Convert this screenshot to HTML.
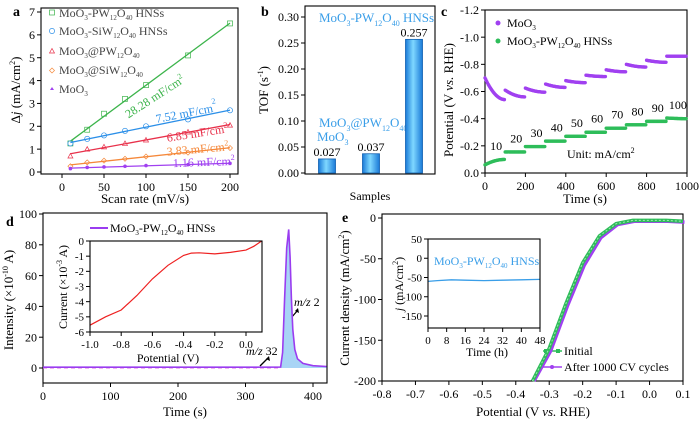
<!DOCTYPE html>
<html><head><meta charset="utf-8"><style>
html,body{margin:0;padding:0;background:#fff}
svg{display:block;font-family:"Liberation Serif",serif}
</style></head><body>
<svg id="fig" width="700" height="422" viewBox="0 0 700 422" xmlns="http://www.w3.org/2000/svg">
<!-- Panel labels -->
<text x="13" y="16" font-size="14" font-weight="bold">a</text>
<text x="261" y="16" font-size="14" font-weight="bold">b</text>
<text x="441" y="16" font-size="14" font-weight="bold">c</text>
<text x="6" y="226" font-size="14" font-weight="bold">d</text>
<text x="342" y="222" font-size="14" font-weight="bold">e</text>

<!-- axis titles -->
<text x="145" y="203" font-size="13" text-anchor="middle">Scan rate (mV/s)</text>
<text transform="translate(20,90) rotate(-90)" font-size="13" text-anchor="middle">Δ<tspan font-style="italic">j</tspan> (mA/cm<tspan font-size="8" dy="-5">2</tspan><tspan dy="5">)</tspan></text>
<text x="370" y="200" font-size="12" text-anchor="middle">Samples</text>
<text transform="translate(268,90) rotate(-90)" font-size="13" text-anchor="middle">TOF (s<tspan font-size="8" dy="-5">-1</tspan><tspan dy="5">)</tspan></text>
<text x="585" y="203" font-size="13" text-anchor="middle">Time (s)</text>
<text transform="translate(453,100) rotate(-90)" font-size="13" text-anchor="middle">Potential (V <tspan font-style="italic">vs.</tspan> RHE)</text>
<text x="185" y="416" font-size="13" text-anchor="middle">Time (s)</text>
<text transform="translate(13,300) rotate(-90)" font-size="13" text-anchor="middle">Intensity (×10<tspan font-size="8" dy="-5">-10</tspan><tspan dy="5"> A)</tspan></text>
<text x="168" y="362" font-size="12" text-anchor="middle">Potential (V)</text>
<text transform="translate(67,287) rotate(-90)" font-size="12" text-anchor="middle">Current (×10<tspan font-size="8" dy="-5">-3</tspan><tspan dy="5"> A)</tspan></text>
<text x="533" y="416" font-size="13" text-anchor="middle">Potential (V <tspan font-style="italic">vs.</tspan> RHE)</text>
<text transform="translate(349,298) rotate(-90)" font-size="13" text-anchor="middle">Current density (mA/cm<tspan font-size="8" dy="-5">2</tspan><tspan dy="5">)</tspan></text>
<text x="487" y="356" font-size="12" text-anchor="middle">Time (h)</text>
<text transform="translate(403,284) rotate(-90)" font-size="12" text-anchor="middle"><tspan font-style="italic">j</tspan> (mA/cm<tspan font-size="8" dy="-5">2</tspan><tspan dy="5">)</tspan></text>

<!-- legend a -->
<g font-size="12">
<rect x="49.5" y="10" width="5" height="5" fill="none" stroke="#3cb44b" stroke-width="0.7"/>
<text x="59" y="17" fill="#444">MoO<tspan font-size="7" dy="3">3</tspan><tspan dy="-3">-PW</tspan><tspan font-size="7" dy="3">12</tspan><tspan dy="-3">O</tspan><tspan font-size="7" dy="3">40</tspan><tspan dy="-3"> HNSs</tspan></text>
<circle cx="52" cy="31" r="2.6" fill="none" stroke="#2b8fe8" stroke-width="0.7"/>
<text x="59" y="35" fill="#444">MoO<tspan font-size="7" dy="3">3</tspan><tspan dy="-3">-SiW</tspan><tspan font-size="7" dy="3">12</tspan><tspan dy="-3">O</tspan><tspan font-size="7" dy="3">40</tspan><tspan dy="-3"> HNSs</tspan></text>
<path d="M49.5,53 L52,48.5 L54.5,53 Z" fill="none" stroke="#e8304a" stroke-width="0.7"/>
<text x="59" y="55" fill="#444">MoO<tspan font-size="7" dy="3">3</tspan><tspan dy="-3">@PW</tspan><tspan font-size="7" dy="3">12</tspan><tspan dy="-3">O</tspan><tspan font-size="7" dy="3">40</tspan></text>
<path d="M52,68 L54.5,70.5 L52,73 L49.5,70.5 Z" fill="none" stroke="#f5883a" stroke-width="0.7"/>
<text x="59" y="74" fill="#444">MoO<tspan font-size="7" dy="3">3</tspan><tspan dy="-3">@SiW</tspan><tspan font-size="7" dy="3">12</tspan><tspan dy="-3">O</tspan><tspan font-size="7" dy="3">40</tspan></text>
<path d="M52,87 L54,90 L50,90 Z" fill="#a040f0"/>
<text x="59" y="93" fill="#444">MoO<tspan font-size="7" dy="3">3</tspan></text>
</g>
<!-- slope annotations a -->
<text transform="translate(157,100) rotate(-33)" font-size="12" fill="#3cb44b" text-anchor="middle">28.28 mF/cm<tspan font-size="8" dy="-5">2</tspan></text>
<text transform="translate(187,117) rotate(-11)" font-size="12" fill="#2b8fe8" text-anchor="middle">7.52 mF/cm<tspan font-size="8" dy="-8">2</tspan></text>
<text transform="translate(198,137) rotate(-9)" font-size="12" fill="#e8304a" text-anchor="middle">6.85 mF/cm<tspan font-size="8" dy="-5">2</tspan></text>
<text transform="translate(198,153) rotate(-5)" font-size="12" fill="#f5883a" text-anchor="middle">3.83 mF/cm<tspan font-size="8" dy="-5">2</tspan></text>
<text transform="translate(204,166) rotate(-2)" font-size="12" fill="#a040f0" text-anchor="middle">1.16 mF/cm<tspan font-size="8" dy="-5">2</tspan></text>

<!-- b labels -->
<text x="319" y="22" font-size="13" fill="#3a9ee8">MoO<tspan font-size="8" dy="4">3</tspan><tspan dy="-4">-PW</tspan><tspan font-size="8" dy="4">12</tspan><tspan dy="-4">O</tspan><tspan font-size="8" dy="4">40</tspan><tspan dy="-4"> HNSs</tspan></text>
<text x="319" y="127" font-size="13" fill="#3a9ee8">MoO<tspan font-size="8" dy="4">3</tspan><tspan dy="-4">@PW</tspan><tspan font-size="8" dy="4">12</tspan><tspan dy="-4">O</tspan><tspan font-size="8" dy="4">40</tspan></text>
<text x="317" y="141" font-size="13" fill="#3a9ee8">MoO<tspan font-size="8" dy="4">3</tspan></text>

<!-- legend c -->
<g font-size="12">
<circle cx="498" cy="23" r="2.5" fill="#a040f0"/>
<text x="507" y="27">MoO<tspan font-size="7" dy="3">3</tspan></text>
<circle cx="498" cy="41" r="2.5" fill="#2ebd5a"/>
<text x="507" y="45">MoO<tspan font-size="7" dy="3">3</tspan><tspan dy="-3">-PW</tspan><tspan font-size="7" dy="3">12</tspan><tspan dy="-3">O</tspan><tspan font-size="7" dy="3">40</tspan><tspan dy="-3"> HNSs</tspan></text>
</g>
<text x="567" y="158" font-size="12">Unit: mA/cm<tspan font-size="8" dy="-5">2</tspan></text>

<!-- legend d -->
<line x1="90" y1="228" x2="108" y2="228" stroke="#9a3cf0" stroke-width="2"/>
<text x="110" y="232" font-size="12">MoO<tspan font-size="7" dy="3">3</tspan><tspan dy="-3">-PW</tspan><tspan font-size="7" dy="3">12</tspan><tspan dy="-3">O</tspan><tspan font-size="7" dy="3">40</tspan><tspan dy="-3"> HNSs</tspan></text>
<text x="294" y="306" font-size="12"><tspan font-style="italic">m/z</tspan> 2</text>
<line x1="291" y1="318" x2="298" y2="310" stroke="#000" stroke-width="1.3"/>
<path d="M298,308 L299,313 L295,311 Z" fill="#000"/>
<text x="246" y="355" font-size="12"><tspan font-style="italic">m/z</tspan> 32</text>
<line x1="260" y1="366" x2="268" y2="358" stroke="#000" stroke-width="1.3"/>
<path d="M269,356 L270,361 L266,359 Z" fill="#000"/>

<!-- legend e -->
<text x="434" y="265" font-size="12" fill="#3a9ee8">MoO<tspan font-size="7" dy="3">3</tspan><tspan dy="-3">-PW</tspan><tspan font-size="7" dy="3">12</tspan><tspan dy="-3">O</tspan><tspan font-size="7" dy="3">40</tspan><tspan dy="-3"> HNSs</tspan></text>
<g>
<line x1="543" y1="351" x2="562" y2="351" stroke="#2ebd5a" stroke-width="1.5"/>
<rect x="544" y="349" width="4" height="4" fill="#2ebd5a"/><rect x="556" y="349" width="4" height="4" fill="#2ebd5a"/>
<text x="564" y="355" font-size="12">Initial</text>
<line x1="543" y1="367" x2="562" y2="367" stroke="#a040f0" stroke-width="1.5"/>
<circle cx="552" cy="367" r="2" fill="#a040f0"/>
<text x="564" y="371" font-size="12">After 1000 CV cycles</text>
</g>
<g id="marks"></g>
</svg>
<script>
// ---------- data ----------
const aScan = [10, 30, 50, 75, 100, 150, 200];
const aGreen = [1.25, 1.85, 2.55, 3.2, 3.8, 5.1, 6.5];
const aBlue = [1.25, 1.45, 1.6, 1.8, 2.0, 2.3, 2.7];
const aRed = [0.7, 1.0, 1.1, 1.25, 1.4, 1.75, 2.05];
const aOrange = [0.25, 0.42, 0.5, 0.58, 0.68, 0.85, 1.05];
const aPurple = [0.15, 0.2, 0.22, 0.25, 0.28, 0.32, 0.38];
const aXTicks = [0, 50, 100, 150, 200];
const aYTicks = [0, 1, 2, 3, 4, 5, 6, 7];

const bCats = ["MoO3", "MoO3@PW12O40", "MoO3-PW12O40 HNSs"];
const bValues = [0.027, 0.037, 0.257];
const bValueLabels = ["0.027", "0.037", "0.257"];
const bYTicks = [0, 0.05, 0.10, 0.15, 0.20, 0.25, 0.30];
const bYTickLabels = ["0.00", "0.05", "0.10", "0.15", "0.20", "0.25", "0.30"];

const cMoO3Start = [-0.70, -0.61, -0.625, -0.655, -0.68, -0.72, -0.76, -0.80, -0.83, -0.86];
const cMoO3End = [-0.54, -0.56, -0.595, -0.63, -0.665, -0.71, -0.745, -0.78, -0.815, -0.86];
const cHNSsStart = [-0.06, -0.155, -0.195, -0.235, -0.27, -0.30, -0.33, -0.355, -0.38, -0.405];
const cHNSsEnd = [-0.10, -0.155, -0.195, -0.235, -0.27, -0.30, -0.33, -0.355, -0.38, -0.40];
const cCurrents = ["10", "20", "30", "40", "50", "60", "70", "80", "90", "100"];
const cXTicks = [0, 200, 400, 600, 800, 1000];
const cYTicks = [0, -0.2, -0.4, -0.6, -0.8, -1.0, -1.2];
const cYTickLabels = ["0.0", "-0.2", "-0.4", "-0.6", "-0.8", "-1.0", "-1.2"];

const dTime = [0, 100, 200, 300, 352, 355, 358, 361, 364, 366, 368, 370, 373, 377, 385, 400, 420];
const dIntensity = [0.5, 0.5, 0.5, 0.5, 0.6, 10, 45, 78, 90, 72, 45, 25, 12, 6, 3, 1.5, 1];
const dXTicks = [0, 100, 200, 300, 400];
const dYTicks = [0, 20, 40, 60, 80, 100];
const dInsetV = [-1.0, -0.9, -0.8, -0.7, -0.6, -0.5, -0.4, -0.35, -0.3, -0.2, -0.1, 0.0, 0.05, 0.1];
const dInsetI = [-5.55, -5.0, -4.55, -3.6, -2.5, -1.6, -0.95, -0.8, -0.78, -0.85, -0.75, -0.6, -0.35, 0.0];
const dInsetXTicks = [-1.0, -0.8, -0.6, -0.4, -0.2, 0.0];
const dInsetXTickLabels = ["-1.0", "-0.8", "-0.6", "-0.4", "-0.2", "0.0"];
const dInsetYTicks = [0, -1, -2, -3, -4, -5, -6];

const eV = [-0.35, -0.3, -0.25, -0.2, -0.15, -0.1, -0.05, 0.0, 0.05, 0.1];
const eInitial = [-200, -160, -105, -55, -22, -7, -3, -3, -3, -4];
const eCycled = [-200, -163, -108, -58, -24, -8, -4, -4, -4, -5];
const eXTicks = [-0.8, -0.7, -0.6, -0.5, -0.4, -0.3, -0.2, -0.1, 0.0, 0.1];
const eXTickLabels = ["-0.8", "-0.7", "-0.6", "-0.5", "-0.4", "-0.3", "-0.2", "-0.1", "0.0", "0.1"];
const eYTicks = [0, -50, -100, -150, -200];
const eInsetT = [0, 4, 10, 16, 24, 32, 40, 48];
const eInsetJ = [-60, -58, -56, -57, -58, -57, -56, -55];
const eInsetXTicks = [0, 8, 16, 24, 32, 40, 48];
const eInsetYTicks = [50, 0, -50, -100, -150];

// ---------- helpers ----------
const NS = "http://www.w3.org/2000/svg";
const root = document.getElementById("marks");
function mk(tag, attrs, parent, name) {
  const e = document.createElementNS(NS, tag);
  for (const k in attrs) e.setAttribute(k, attrs[k]);
  
  
  (parent || root).appendChild(e);
  return e;
}
function lin(d0, d1, r0, r1) { return v => r0 + (v - d0) * (r1 - r0) / (d1 - d0); }
function frame(x0, y0, x1, y1, name) {
  mk("rect", {x: x0, y: y0, width: x1 - x0, height: y1 - y0, fill: "none", stroke: "#000", "stroke-width": 1.1}, root, name);
}
function xTicks(vals, labels, sx, yb, name, fs) {
  vals.forEach((v, i) => {
    const x = sx(v);
    mk("line", {x1: x, y1: yb, x2: x, y2: yb + 4, stroke: "#000", "stroke-width": 1}, root, name + "-tick");
    const t = mk("text", {x: x, y: yb + 5 + fs, "font-size": fs, "text-anchor": "middle"}, root, name + "-tick-label");
    t.textContent = labels ? labels[i] : String(v);
  });
}
function yTicks(vals, labels, sy, xl, name, fs) {
  vals.forEach((v, i) => {
    const y = sy(v);
    mk("line", {x1: xl - 4, y1: y, x2: xl, y2: y, stroke: "#000", "stroke-width": 1}, root, name + "-tick");
    const t = mk("text", {x: xl - 6, y: y + fs * 0.35, "font-size": fs, "text-anchor": "end"}, root, name + "-tick-label");
    t.textContent = labels ? labels[i] : String(v);
  });
}
function poly(xs, ys, sx, sy, attrs, name) {
  const pts = xs.map((x, i) => sx(x).toFixed(1) + "," + sy(ys[i]).toFixed(1)).join(" ");
  const a = Object.assign({points: pts, fill: "none"}, attrs);
  return mk("polyline", a, root, name);
}

// ---------- panel a ----------
{
  const sx = lin(0, 200, 62, 230), sy = lin(0, 7, 172, 12);
  frame(41, 8, 238, 174, "a-plot-frame");
  xTicks(aXTicks, null, sx, 174, "a-x", 12);
  yTicks(aYTicks, null, sy, 41, "a-y", 12);
  const series = [[aGreen, "#3cb44b", "rect"], [aBlue, "#2b8fe8", "circle"], [aRed, "#e8304a", "tri"], [aOrange, "#f5883a", "dia"], [aPurple, "#a040f0", "star"]];
  series.forEach(([ys, col, shp], si) => {
    const n = aScan.length;
    const mx = aScan.reduce((a, b) => a + b) / n, my = ys.reduce((a, b) => a + b) / n;
    let num = 0, den = 0;
    aScan.forEach((x, i) => { num += (x - mx) * (ys[i] - my); den += (x - mx) ** 2; });
    const k = num / den, b0 = my - k * mx;
    mk("line", {x1: sx(10), y1: sy(b0 + k * 10), x2: sx(200), y2: sy(b0 + k * 200), stroke: col, "stroke-width": 1.3}, root, "a-fit-line-" + si);
    aScan.forEach((x, i) => {
      const px = sx(x), py = sy(ys[i]);
      if (shp === "rect") mk("rect", {x: px - 2.5, y: py - 2.5, width: 5, height: 5, fill: "none", stroke: col, "stroke-width": 0.7}, root, "a-point");
      else if (shp === "circle") mk("circle", {cx: px, cy: py, r: 2.6, fill: "none", stroke: col, "stroke-width": 0.7}, root, "a-point");
      else if (shp === "tri") mk("path", {d: `M${px - 2.5},${py + 2} L${px},${py - 2.5} L${px + 2.5},${py + 2} Z`, fill: "none", stroke: col, "stroke-width": 0.7}, root, "a-point");
      else if (shp === "dia") mk("path", {d: `M${px},${py - 2.5} L${px + 2.5},${py} L${px},${py + 2.5} L${px - 2.5},${py} Z`, fill: "none", stroke: col, "stroke-width": 0.7}, root, "a-point");
      else mk("circle", {cx: px, cy: py, r: 1.8, fill: col}, root, "a-point");
    });
  });
}

// ---------- panel b ----------
{
  const sy = lin(0, 0.30, 173, 17);
  const centers = [327, 371, 414];
  const defs = mk("defs", {}, root, "b-defs");
  const g = mk("linearGradient", {id: "barGrad", x1: "0", x2: "1", y1: "0", y2: "0"}, defs, "bar-gradient");
  mk("stop", {offset: "0", "stop-color": "#1a7ad8"}, g, "grad-stop");
  mk("stop", {offset: "0.45", "stop-color": "#7fd8ff"}, g, "grad-stop");
  mk("stop", {offset: "1", "stop-color": "#1a7ad8"}, g, "grad-stop");
  bValues.forEach((v, i) => {
    const bar = mk("rect", {x: centers[i] - 8.5, y: sy(v), width: 17, height: sy(0) - sy(v), fill: "url(#barGrad)", stroke: "#1060b0", "stroke-width": 0.8}, root, "bar-" + i);
    const t = mk("text", {x: centers[i], y: sy(v) - 3, "font-size": 12, "text-anchor": "middle"}, root, "bar-value-label-" + i);
    t.textContent = bValueLabels[i];
  });
  frame(305, 6, 435, 174, "b-plot-frame");
  yTicks(bYTicks, bYTickLabels, sy, 305, "b-y", 12);
}

// ---------- panel c ----------
{
  const sx = lin(0, 1000, 485, 687), sy = lin(0, -1.2, 173, 10);
  frame(485, 10, 687, 173, "c-plot-frame");
  xTicks(cXTicks, null, sx, 173, "c-x", 12);
  yTicks(cYTicks, cYTickLabels, sy, 485, "c-y", 12);
  const draw = (st, en, col, name) => {
    st.forEach((s, i) => {
      for (let t = 0; t < 100; t += 4) {
        const f = t / 100;
        const v = s + (en[i] - s) * (1 - Math.pow(1 - f, 2));
        mk("circle", {cx: sx(i * 100 + t), cy: sy(v), r: 1.7, fill: col}, root, name);
      }
    });
  };
  draw(cMoO3Start, cMoO3End, "#a040f0", "c-moo3-point");
  draw(cHNSsStart, cHNSsEnd, "#2ebd5a", "c-hnss-point");
  cCurrents.forEach((lab, i) => {
    const t = mk("text", {x: sx(i * 100 + 55), y: sy(cHNSsEnd[i] - 0.07), "font-size": 12, "text-anchor": "middle"}, root, "c-current-label");
    t.textContent = lab;
  });
}

// ---------- panel d ----------
{
  const sx = lin(0, 400, 43, 313), sy = lin(0, 100, 368, 214);
  frame(43, 213, 327, 383, "d-plot-frame");
  xTicks(dXTicks, null, sx, 383, "d-x", 12);
  yTicks(dYTicks, null, sy, 43, "d-y", 12);
  const idx = dTime.map((t, i) => i).filter(i => dTime[i] >= 352);
  let d = `M${sx(352)},${sy(0)} `;
  idx.forEach(i => { d += `L${sx(dTime[i]).toFixed(1)},${sy(dIntensity[i]).toFixed(1)} `; });
  d += `L${sx(420)},${sy(0)} Z`;
  mk("path", {d: d, fill: "#a8d4f5", stroke: "none"}, root, "d-peak-fill");
  mk("line", {x1: sx(0), y1: sy(0), x2: sx(352), y2: sy(0), stroke: "#e070e0", "stroke-width": 1, "stroke-dasharray": "4,3"}, root, "d-baseline");
  poly(dTime, dIntensity, sx, sy, {stroke: "#9a3cf0", "stroke-width": 1.6}, "d-intensity-line");
  const ix = lin(-1, 0, 90, 246), iy = lin(0, -6, 241, 332);
  mk("rect", {x: 90, y: 241, width: 172, height: 91, fill: "#fff", stroke: "none"}, root, "d-inset-bg");
  poly(dInsetV, dInsetI, ix, iy, {stroke: "#ee2020", "stroke-width": 1.2}, "d-inset-line");
  frame(90, 241, 262, 332, "d-inset-frame");
  xTicks(dInsetXTicks, dInsetXTickLabels, ix, 332, "d-inset-x", 11);
  yTicks(dInsetYTicks, null, iy, 90, "d-inset-y", 11);
}

// ---------- panel e ----------
{
  const sx = lin(-0.8, 0.1, 382, 683), sy = lin(0, -200, 218, 381);
  frame(382, 214, 683, 381, "e-plot-frame");
  xTicks(eXTicks, eXTickLabels, sx, 381, "e-x", 12);
  yTicks(eYTicks, null, sy, 382, "e-y", 12);
  poly(eV, eCycled, v => sx(v) + 1.5, sy, {stroke: "#a040f0", "stroke-width": 3.5}, "e-cycled-line");
  poly(eV, eInitial, sx, sy, {stroke: "#2ebd5a", "stroke-width": 3.5}, "e-initial-line");
  poly(eV, eInitial, sx, sy, {stroke: "#9ee8b0", "stroke-width": 1, "stroke-dasharray": "2,2"}, "e-initial-markers");
  const ix = lin(0, 48, 428, 540), iy = lin(50, -150, 239, 316);
  poly(eInsetT, eInsetJ, ix, iy, {stroke: "#3a9ee8", "stroke-width": 1.3}, "e-inset-line");
  frame(428, 239, 540, 328, "e-inset-frame");
  xTicks(eInsetXTicks, null, ix, 328, "e-inset-x", 11);
  yTicks(eInsetYTicks, null, iy, 428, "e-inset-y", 11);
}
</script>
</body></html>
